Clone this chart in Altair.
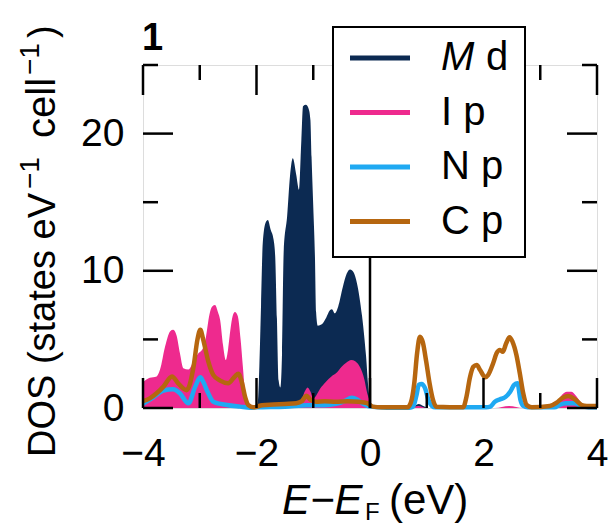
import altair as alt
import pandas as pd

# Projected densities of states (states eV^-1 cell^-1) versus E - E_F (eV)
md_energy = [-4.0, -2.05, -1.98, -1.95, -1.92, -1.89, -1.84, -1.80, -1.75, -1.70,
             -1.67, -1.64, -1.61, -1.58, -1.55, -1.52, -1.46, -1.41, -1.36, -1.30,
             -1.25, -1.21, -1.18, -1.13, -1.08, -1.05, -1.03, -1.00, -0.97, -0.95,
             -0.92, -0.85, -0.77, -0.71, -0.67, -0.62, -0.56, -0.48, -0.41, -0.35,
             -0.29, -0.23, -0.14, -0.07, -0.03, 0.01, 0.05, 0.70, 0.78, 0.86,
             0.94, 1.02, 4.0]
md_dos = [0, 0, 0.3, 3.0, 7.5, 12.0, 13.5, 13.7, 13.0, 12.3,
          11.0, 6.5, 2.0, 1.5, 4.0, 11.5, 14.0, 16.9, 18.2, 17.0,
          15.9, 19.5, 22.0, 22.1, 21.8, 21.0, 18.3, 14.7, 11.0, 7.0,
          6.0, 6.1, 6.6, 7.1, 7.2, 6.9, 7.4, 8.8, 9.8, 10.1,
          9.9, 9.1, 6.7, 3.8, 1.5, 0.4, 0.05, 0, 0.15, 0.3,
          0.15, 0, 0]

ip_energy = [-4.0, -3.88, -3.76, -3.70, -3.61, -3.52, -3.47, -3.41, -3.35, -3.29,
             -3.20, -3.10, -3.02, -2.95, -2.89, -2.83, -2.78, -2.73, -2.68, -2.64,
             -2.59, -2.54, -2.50, -2.46, -2.42, -2.38, -2.33, -2.28, -2.24, -2.21,
             -2.17, -2.11, -2.00, -1.90, -1.80, -1.70, -1.60, -1.50, -1.35, -1.22,
             -1.15, -1.10, -1.05, -1.00, -0.95, -0.88, -0.78, -0.68, -0.58, -0.50,
             -0.42, -0.33, -0.26, -0.18, -0.10, -0.05, 0.00, 0.05, 0.15, 0.70,
             0.85, 1.00, 2.20, 2.45, 2.70, 3.15, 3.29, 3.38, 3.47, 3.55,
             3.64, 3.73, 3.82, 4.0]
ip_dos = [1.9, 2.2, 2.3, 2.8, 4.5, 5.6, 5.7, 5.3, 4.0, 2.9,
          2.8, 3.5, 4.0, 4.3, 5.2, 6.8, 7.4, 7.5, 7.0, 6.4,
          4.6, 3.5, 4.3, 5.7, 6.7, 7.0, 6.7, 5.0, 3.0, 1.5,
          0.6, 0.1, 0.1, 0.3, 0.35, 0.2, 0.1, 0.2, 0.3, 0.5,
          1.2, 1.5, 1.2, 0.7, 0.9, 1.4, 1.9, 2.3, 2.6, 3.0,
          3.3, 3.5, 3.4, 3.0, 2.1, 1.1, 0.5, 0.15, 0.05, 0.0,
          0.15, 0.0, 0.0, 0.15, 0.0, 0.0, 0.34, 0.95, 1.19, 1.19,
          0.83, 0.34, 0.1, 0.05]

np_energy = [-4.0, -3.82, -3.64, -3.47, -3.35, -3.20, -3.08, -2.99, -2.94, -2.85,
             -2.76, -2.52, -2.29, -2.11, -2.00, -1.50, -1.10, -0.80, -0.60, -0.45,
             -0.32, -0.22, -0.12, 0.00, 0.30, 0.70, 0.76, 0.82, 0.86, 0.91,
             0.97, 1.03, 1.09, 1.15, 2.05, 2.12, 2.20, 2.29, 2.38, 2.47,
             2.54, 2.60, 2.65, 2.70, 2.78, 3.25, 3.35, 3.45, 3.60, 3.72,
             3.85, 4.0]
np_dos = [0.3, 0.78, 1.27, 1.36, 1.07, 0.34, 1.56, 2.24, 1.92, 1.07,
          0.46, 0.22, 0.1, 0.02, 0.05, 0.1, 0.2, 0.2, 0.3, 0.5,
          0.75, 0.6, 0.3, 0.1, 0.02, 0.02, 0.1, 0.95, 1.7, 1.75,
          1.44, 0.58, 0.15, 0.05, 0.05, 0.1, 0.46, 0.63, 0.78, 1.19,
          1.68, 1.8, 0.6, 0.15, 0.05, 0.05, 0.25, 0.35, 0.35, 0.15,
          0.05, 0.05]

cp_energy = [-4.0, -3.88, -3.76, -3.64, -3.49, -3.38, -3.23, -3.11, -3.04, -2.99,
             -2.94, -2.85, -2.76, -2.64, -2.50, -2.38, -2.32, -2.26, -2.20, -2.14,
             -2.05, -1.90, -1.70, -1.50, -1.30, -1.20, -1.12, -1.05, -0.95, -0.80,
             -0.60, -0.40, -0.20, -0.05, 0.05, 0.20, 0.66, 0.72, 0.78, 0.83,
             0.88, 0.93, 0.99, 1.05, 1.11, 1.17, 1.64, 1.70, 1.76, 1.82,
             1.88, 1.94, 2.03, 2.08, 2.17, 2.23, 2.29, 2.34, 2.40, 2.46,
             2.51, 2.58, 2.64, 2.70, 2.76, 2.85, 3.17, 3.29, 3.38, 3.49,
             3.61, 3.73, 3.82, 4.0]
cp_dos = [0.5, 0.7, 1.07, 1.56, 2.3, 1.8, 1.3, 3.0, 5.0, 5.7,
          5.0, 3.4, 2.4, 2.0, 1.8, 2.3, 2.5, 1.9, 0.8, 0.2,
          0.05, 0.2, 0.25, 0.3, 0.35, 0.5, 0.9, 0.6, 0.45, 0.5,
          0.45, 0.5, 0.45, 0.35, 0.1, 0.05, 0.05, 0.4, 1.8, 4.0,
          5.2, 4.8, 3.4, 1.8, 0.6, 0.1, 0.05, 0.82, 2.2, 3.0,
          3.14, 2.77, 2.24, 2.4, 3.26, 3.99, 4.23, 4.1, 4.72, 5.16,
          4.84, 3.87, 2.53, 1.07, 0.22, 0.05, 0.15, 0.39, 0.7, 0.87,
          0.63, 0.22, 0.15, 0.15]

series_names = ["M d", "I p", "N p", "C p"]
series_colors = ["#0c2a52", "#ee2a8e", "#1fa9f2", "#b6660f"]

x_major = [-4, -2, 0, 2, 4]
x_minor = [-3, -1, 1, 3]
y_major = [0, 10, 20]
y_minor = [5, 15, 25]

for e, d in [(md_energy, md_dos), (ip_energy, ip_dos), (np_energy, np_dos), (cp_energy, cp_dos)]:
    assert len(e) == len(d)

W, H = 454, 343
FONT = "Liberation Sans"
INK = "black"
LW = 2.5
MAJOR, MINOR = 30, 15

xs = alt.Scale(domain=[-4, 4], nice=False, zero=False)
ys = alt.Scale(domain=[0, 25], nice=False)

# identical axis definitions are attached to every layer so that they merge cleanly
x_axis = alt.Axis(values=x_major, format="d", labelFont=FONT, labelFontSize=39,
                  labelColor=INK, labelPadding=26, labelFlush=False, labelOverlap=False,
                  ticks=False, tickSize=0, domain=False, grid=False, title=None)
y_axis = alt.Axis(values=y_major, format="d", labelFont=FONT, labelFontSize=39,
                  labelColor=INK, labelPadding=19, labelFlush=False, labelOverlap=False,
                  ticks=False, tickSize=0, domain=False, grid=False, title=None)


def table(energy, dos):
    return pd.DataFrame({"E": energy, "DOS": dos})


def area(energy, dos, color):
    return alt.Chart(table(energy, dos)).mark_area(color=color, interpolate="monotone").encode(
        x=alt.X("E:Q", scale=xs, axis=x_axis),
        y=alt.Y("DOS:Q", scale=ys, axis=y_axis),
    )


def curve(energy, dos, color):
    return alt.Chart(table(energy, dos)).mark_line(
        color=color, strokeWidth=4.5, interpolate="monotone", strokeJoin="round"
    ).encode(
        x=alt.X("E:Q", scale=xs, axis=x_axis),
        y=alt.Y("DOS:Q", scale=ys, axis=y_axis),
    )


def x_ticks(values, length, top):
    y0, y1 = (0, length) if top else (H, H - length)
    return alt.Chart(pd.DataFrame({"v": values})).mark_rule(color=INK, strokeWidth=LW).encode(
        x=alt.X("v:Q", scale=xs, axis=x_axis), y=alt.value(y0), y2=alt.value(y1)
    )


def y_ticks(values, length, right):
    x0, x1 = (W, W - length) if right else (0, length)
    return alt.Chart(pd.DataFrame({"v": values})).mark_rule(color=INK, strokeWidth=LW).encode(
        y=alt.Y("v:Q", scale=ys, axis=y_axis), x=alt.value(x0), x2=alt.value(x1)
    )


def note(text, x, y, size, style="normal", weight="normal", angle=0):
    kw = dict(font=FONT, fontSize=size, fontStyle=style, fontWeight=weight,
              align="left", baseline="alphabetic", color=INK)
    if angle:
        kw["angle"] = angle
    return alt.Chart(pd.DataFrame({"t": [text]})).mark_text(**kw).encode(
        x=alt.value(x), y=alt.value(y), text="t:N"
    )


# Fermi level
fermi = alt.Chart(pd.DataFrame({"E": [0]})).mark_rule(color=INK, strokeWidth=LW).encode(
    x=alt.X("E:Q", scale=xs, axis=x_axis)
)

# Legend box with one swatch line and label per projection
LEG_X0, LEG_X1, LEG_Y0, LEG_Y1 = 190, 382, -38, 192
SW_X0, SW_X1 = 207, 267
TXT_X = 298
ROW0, ROW_STEP = -7, 54.5

symbols = [n.split(" ")[0] for n in series_names]
orbitals = [n.split(" ")[1] for n in series_names]
italic = [s == "M" for s in symbols]
legend = pd.DataFrame({
    "color": series_colors,
    "ly": [ROW0 + ROW_STEP * i for i in range(len(series_names))],
    "sym": symbols,
    "upright": [o if it else n for n, o, it in zip(series_names, orbitals, italic)],
    "ux": [TXT_X + 45 if it else TXT_X for it in italic],
    "italic": italic,
})

legend_box = alt.Chart(pd.DataFrame({"k": [0]})).mark_rect(
    fill="white", stroke=INK, strokeWidth=2
).encode(x=alt.value(LEG_X0), x2=alt.value(LEG_X1), y=alt.value(LEG_Y0), y2=alt.value(LEG_Y1))

legend_lines = alt.Chart(legend).mark_rule(strokeWidth=5).encode(
    x=alt.value(SW_X0), x2=alt.value(SW_X1),
    y=alt.Y("ly:Q", scale=None, axis=None),
    color=alt.Color("color:N", scale=None, legend=None),
)

legend_upright = alt.Chart(legend).mark_text(
    font=FONT, fontSize=40, align="left", baseline="middle", color=INK
).encode(
    x=alt.X("ux:Q", scale=None, axis=None),
    y=alt.Y("ly:Q", scale=None, axis=None),
    text="upright:N",
)

legend_italic = alt.Chart(legend).transform_filter("datum.italic").mark_text(
    font=FONT, fontSize=40, fontStyle="italic", align="left", baseline="middle", color=INK
).encode(
    x=alt.value(TXT_X),
    y=alt.Y("ly:Q", scale=None, axis=None),
    text="sym:N",
)

layers = [
    area(md_energy, md_dos, series_colors[0]),
    area(ip_energy, ip_dos, series_colors[1]),
    curve(np_energy, np_dos, series_colors[2]),
    curve(cp_energy, cp_dos, series_colors[3]),
    fermi,
    x_ticks(x_major, MAJOR, top=False), x_ticks(x_minor, MINOR, top=False),
    x_ticks(x_major, MAJOR, top=True), x_ticks(x_minor, MINOR, top=True),
    y_ticks(y_major, MAJOR, right=False), y_ticks(y_minor, MINOR, right=False),
    y_ticks(y_major, MAJOR, right=True), y_ticks(y_minor, MINOR, right=True),
    legend_box, legend_lines, legend_upright, legend_italic,
    # panel number
    note("1", -1, -15, 38, weight="bold"),
    # x-axis title: E − E_F (eV)
    note("E\u2212E", 139, 449, 42, style="italic"),
    note("F", 222, 455, 24),
    note("(eV)", 246, 449, 42),
    # y-axis title: DOS (states eV^-1 cell^-1), reading upwards
    note("DOS (states eV", -88, 392, 38, angle=270),
    note("\u22121", -104, 124, 28, angle=270),
    note("cell", -88, 73, 40, angle=270),
    note("\u22121", -104, 10, 28, angle=270),
    note(")", -88, -27, 38, angle=270),
]

chart = alt.layer(*layers).properties(
    width=W, height=H,
    padding={"left": 143, "top": 65, "right": 11, "bottom": 118},
    autosize=alt.AutoSizeParams(type="none"),
).configure_view(stroke=INK, strokeWidth=LW).configure(background="white")

chart.save("out.html", embed_options={"renderer": "svg", "actions": False})
